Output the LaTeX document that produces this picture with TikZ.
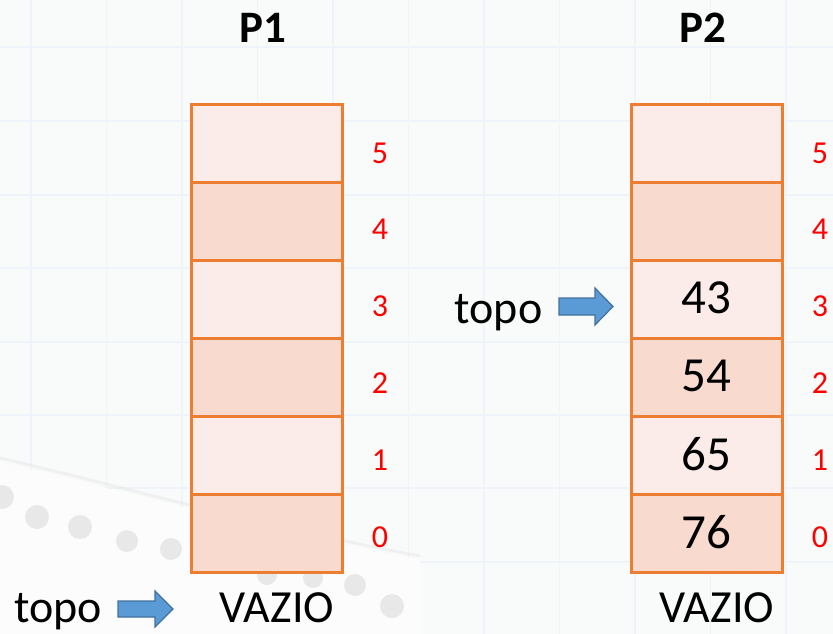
\documentclass[tikz,border=0pt]{standalone}
\usepackage{fontspec}
\setmainfont{Carlito}
\definecolor{bg}{RGB}{249,250,250}
\definecolor{gridc}{RGB}{238,244,249}
\definecolor{cellA}{RGB}{251,236,233}
\definecolor{cellB}{RGB}{248,218,207}
\definecolor{cellline}{RGB}{237,125,49}
\definecolor{arrowfill}{RGB}{91,155,213}
\definecolor{arrowline}{RGB}{65,113,156}
\definecolor{idx}{RGB}{255,0,0}
\definecolor{deco}{RGB}{232,232,232}
\begin{document}
\begin{tikzpicture}[x=1pt,y=-1pt,
  cell/.style={draw=cellline, line width=3pt, minimum width=151pt, minimum height=78pt, inner sep=0pt, outer sep=0pt},
  idxlabel/.style={text=idx, font=\fontsize{32}{34}\selectfont, anchor=base, inner sep=0pt},
  value/.style={font=\fontsize{49}{51}\selectfont, inner sep=0pt},
  title/.style={font=\fontsize{45}{48}\selectfont\bfseries, anchor=base, inner sep=0pt},
  plain/.style={font=\fontsize{46}{48}\selectfont, anchor=base, inner sep=0pt},
  barrow/.style={fill=arrowfill, draw=arrowline, line width=1.2pt, line join=miter}
]
\useasboundingbox (0,0) rectangle (833,634);
\fill[bg] (0,0) rectangle (833,634);
% faint grid
\foreach \x in {31,106.5,182,257.5,333,408.5,484,559.5,635,710.5,786}
  \draw[gridc, line width=1.5pt] (\x,0) -- (\x,634);
\foreach \y in {47,121,195,268,342,415,488,562}
  \draw[gridc, line width=1.5pt] (0,\y) -- (833,\y);
% faint decoration (binding) lower left
\fill[white!50!bg] (0,462) .. controls (120,490) and (260,530) .. (420,560) -- (420,634) -- (0,634) -- cycle;
\draw[deco, line width=3pt, opacity=0.5] (0,458) .. controls (120,486) and (260,526) .. (420,556);
\foreach \cx/\cy/\r in {2/497/12, 37/517/12, 80/527/12, 127/541/11, 171/549/11, 267/575/10, 313/578/10, 355/585/11, 392/606/12}
  \fill[deco] (\cx,\cy) circle (\r);

% stacks P1 and P2
\foreach \k/\c in {0/cellB,1/cellA,2/cellB,3/cellA,4/cellB,5/cellA} {
  \node[cell, fill=\c] (p1c\k) at (266.5, {104+78*(5-\k)+39}) {};
  \node[cell, fill=\c] (p2c\k) at (706.5, {104+78*(5-\k)+39}) {};
}
\foreach \k/\b in {0/547,1/470,2/393,3/316,4/239,5/163} {
  \node[idxlabel] (p1i\k) at (380,\b) {\k};
  \node[idxlabel] (p2i\k) at (820,\b) {\k};
}
\node[title] (t1) at (263,43) {P1};
\node[title] (t2) at (703,43) {P2};

\node[value] (v3) at ([yshift=1pt]p2c3.center) {43};
\node[value] (v2) at ([yshift=1pt]p2c2.center) {54};
\node[value] (v1) at ([yshift=1pt]p2c1.center) {65};
\node[value] (v0) at ([yshift=1pt]p2c0.center) {76};

\node[plain] (topoA) at (58,622) {topo};
\node[plain] (vazA) at (277,622) {VAZIO};
\node[plain] (vazB) at (717,622) {VAZIO};
\node[plain] (topoB) at (498.5,323) {topo};

\coordinate (arrA) at (118,609);
\coordinate (arrB) at (559,306.5);
\draw[barrow] (arrA) ++(0,-8) -- ++(37,0) -- ++(0,-10) -- ++(18,18) -- ++(-18,18) -- ++(0,-10) -- ++(-37,0) -- cycle;
\draw[barrow] (arrB) ++(0,-8.5) -- ++(36,0) -- ++(0,-10) -- ++(18,18.5) -- ++(-18,18.5) -- ++(0,-10) -- ++(-36,0) -- cycle;
\end{tikzpicture}
\end{document}
